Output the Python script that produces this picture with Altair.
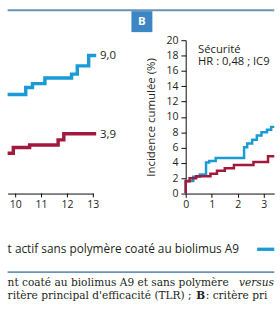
import altair as alt
import pandas as pd

# ---------------- data ----------------
# Panel A (only its right end is visible)
a_blue_month = [9.69, 10.39, 10.65, 11.13, 12.16, 12.38, 12.82, 13.11]
a_blue_pct = [6.46, 6.92, 7.17, 7.54, 7.79, 8.33, 9.0, 9.0]
a_red_month = [9.69, 9.91, 10.54, 11.64, 11.86, 13.11]
a_red_pct = [2.63, 3.0, 3.17, 3.5, 3.9, 3.9]
a_end_labels = ["9,0", "3,9"]
a_end_values = [9.0, 3.9]
a_ticks = [10, 11, 12, 13]
a_tick_labels = ["10", "11", "12", "13"]

# Panel B (only its left part is visible)
b_blue_month = [0, 0, 0.29, 0.54, 0.78, 0.9, 1.15, 2.24, 2.36, 2.55, 2.73, 2.91, 3.12, 3.28, 3.4]
b_blue_pct = [0, 1.65, 2.19, 2.48, 4.05, 4.26, 4.63, 6.04, 6.53, 7.03, 7.57, 7.99, 8.32, 8.7, 8.7]
b_red_month = [0, 0, 0.15, 0.4, 0.95, 1.2, 1.5, 1.85, 2.6, 3.16, 3.4]
b_red_pct = [0, 1.6, 2.0, 2.27, 2.6, 2.98, 3.3, 3.72, 4.13, 4.88, 4.88]
b_xticks = [0, 1, 2, 3]
b_yticks = [0, 2, 4, 6, 8, 10, 12, 14, 16, 18, 20]

series_names = ["BA9", "autre"]
series_colors = ["#1b9bd6", "#a3193d"]

legend_text = "t actif sans polymère coaté au biolimus A9"
caption_1a = "nt coaté au biolimus A9 et sans polymère"
caption_1b = "versus"
caption_2a = "ritère principal d'efficacité (TLR) ;"
caption_2b = "B"
caption_2c = ": critère principal de sécurité"
panel_tag = "B"
safety_title = "Sécurité"
safety_hr = "HR : 0,48 ; IC95 % : 0,23-1,01"
y_title = "Incidence cumulée (%)"

SANS = "Open Sans"
SERIF = "DejaVu Serif"
INK = "#231f20"
FRAME = "#6a93b9"
CUT = " "   # invisible "ellipsis": cut text just stops


def make_df(m1, v1, m2, v2):
    rows = []
    for i, (m, v) in enumerate(zip(m1, v1)):
        rows.append({"month": m, "pct": v, "serie": series_names[0], "i": i})
    for i, (m, v) in enumerate(zip(m2, v2)):
        rows.append({"month": m, "pct": v, "serie": series_names[1], "i": i})
    return pd.DataFrame(rows)


dfA = make_df(a_blue_month, a_blue_pct, a_red_month, a_red_pct)
dfB = make_df(b_blue_month, b_blue_pct, b_red_month, b_red_pct)
dfA_end = pd.DataFrame({"month": [a_blue_month[-1], a_red_month[-1]],
                        "pct": a_end_values, "lab": a_end_labels})
dfA_ticks = pd.DataFrame({"month": a_ticks, "lab": a_tick_labels})

color = alt.Color("serie:N", scale=alt.Scale(domain=series_names, range=series_colors), legend=None)
one = pd.DataFrame({"t": [""]})

TOP = 33.5  # page y of the plot tops
H = 161


def txt(s, x, y, **kw):
    return alt.Chart(pd.DataFrame({"t": [s]})).mark_text(**kw).encode(
        x=alt.value(x), y=alt.value(y - TOP), text="t:N")


def rule(x1, x2, y, **kw):
    return alt.Chart(one).mark_rule(**kw).encode(
        x=alt.value(x1), x2=alt.value(x2), y=alt.value(y - TOP))


# ---------------- panel A ----------------
xA = alt.X("month:Q", scale=alt.Scale(domain=[9.69, 13], nice=False, zero=False),
           axis=alt.Axis(values=a_ticks, labels=False, ticks=False, title=None))
yA = alt.Y("pct:Q", scale=alt.Scale(domain=[0, 10], nice=False), axis=None)

linesA = alt.Chart(dfA).mark_line(interpolate="step-after", strokeWidth=3.6).encode(
    x=xA, y=yA, color=color, order="i:Q")
labelsA = alt.Chart(dfA_end).mark_text(align="left", baseline="middle", dx=4, fontSize=12,
                                       font=SANS, color=INK).encode(x="month:Q", y="pct:Q", text="lab:N")
ticksA = alt.Chart(dfA_ticks).mark_rule(color="#000", strokeWidth=1).encode(
    x="month:Q", y=alt.value(H), y2=alt.value(H + 4))
tickLabA = alt.Chart(dfA_ticks).mark_text(baseline="top", fontSize=11, font=SANS, color=INK).encode(
    x="month:Q", y=alt.value(H + 6), text="lab:N")

# transparent frame covering the whole 280 x 329 page (fixes the picture's bounds)
page = alt.Chart(one).mark_rect(opacity=0).encode(
    x=alt.value(0), x2=alt.value(280), y=alt.value(-TOP), y2=alt.value(329 - TOP))

deco = [
    page,
    rule(0, 280, 2, color=FRAME, strokeWidth=2),
    alt.Chart(one).mark_rect(color="#3c86c3").encode(
        x=alt.value(130), x2=alt.value(152), y=alt.value(3 - TOP), y2=alt.value(25 - TOP)),
    txt(panel_tag, 141, 14, align="center", baseline="middle", font=SANS,
        fontWeight="bold", fontSize=12, color="white"),
    txt(legend_text, 0, 253, align="left", baseline="middle", font=SANS, fontSize=12.4, color=INK),
    rule(262, 280, 253, color=series_colors[0], strokeWidth=3.5),
    rule(0, 280, 277, color=FRAME, strokeWidth=2),
    txt(caption_1a, 0, 292, align="left", baseline="alphabetic", font=SERIF, fontSize=11.1, color=INK),
    txt(caption_1b, 243, 292, align="left", baseline="alphabetic", font=SERIF, fontSize=11.1,
        fontStyle="italic", color=INK, limit=37, ellipsis=CUT),
    txt(caption_2a, 0, 305, align="left", baseline="alphabetic", font=SERIF, fontSize=11.1, color=INK),
    txt(caption_2b, 198, 305, align="left", baseline="alphabetic", font=SERIF, fontSize=11.1,
        fontWeight="bold", color=INK),
    txt(caption_2c, 208, 305, align="left", baseline="alphabetic", font=SERIF, fontSize=11.1,
        color=INK, limit=72, ellipsis=CUT),
]

left = alt.layer(*deco, linesA, labelsA, ticksA, tickLabA).properties(width=90, height=H)

# ---------------- panel B ----------------
xB = alt.X("month:Q", scale=alt.Scale(domain=[0, 3.4], nice=False),
           axis=alt.Axis(values=b_xticks, format="d", title=None, tickSize=4, labelPadding=2,
                         labelOverlap=False, labelFlush=False))
yB = alt.Y("pct:Q", scale=alt.Scale(domain=[0, 20], nice=False),
           axis=alt.Axis(values=b_yticks, format="d", title=y_title, tickSize=5, labelPadding=3,
                         titlePadding=9, labelOverlap=False))

linesB = alt.Chart(dfB).mark_line(interpolate="step-after", strokeWidth=2.6).encode(
    x=xB, y=yB, color=color, order="i:Q")


def txtB(s, x, y, **kw):
    return alt.Chart(pd.DataFrame({"t": [s]})).mark_text(**kw).encode(
        x=alt.value(x - 187), y=alt.value(y - TOP), text="t:N")


annB = [
    txtB(safety_title, 200, 46.5, align="left", baseline="alphabetic", font=SANS, fontSize=11.8, color=INK),
    txtB(safety_hr, 200, 60, align="left", baseline="alphabetic", font=SANS, fontSize=11.8, color=INK,
         limit=80, ellipsis=CUT),
]
right = alt.layer(linesB, *annB).properties(width=93, height=H)

chart = alt.hconcat(left, right, spacing=97, bounds="flush").properties(
    padding={"left": 0, "top": 0, "right": 0, "bottom": 0}
).configure_view(strokeWidth=0).configure_axis(
    domainColor="#000", tickColor="#000", grid=False,
    labelFont=SANS, labelFontSize=11, labelColor=INK,
    titleFont=SANS, titleFontSize=12, titleFontWeight="normal", titleColor=INK,
)

chart.save("out.html", embed_options={"renderer": "svg", "actions": False})
